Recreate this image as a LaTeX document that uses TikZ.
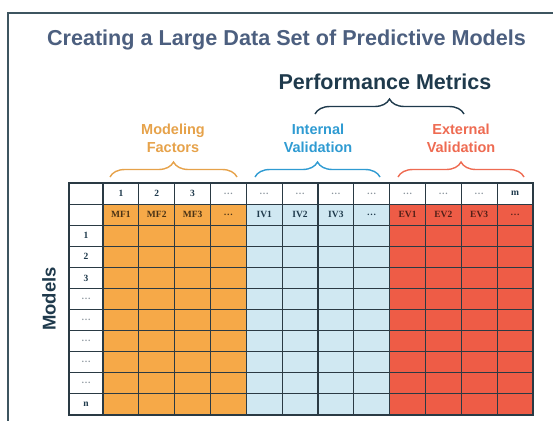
\documentclass[tikz,border=0pt]{standalone}
\usepackage{fontspec}
\setmainfont{Liberation Serif}
\setsansfont{Liberation Sans}
\usetikzlibrary{positioning}
\usetikzlibrary{decorations.pathreplacing}
\definecolor{titleblue}{HTML}{4C5F7F}
\definecolor{metricdark}{HTML}{1F3A4C}
\definecolor{framegray}{HTML}{3E5560}
\definecolor{gridline}{HTML}{2A3A44}
\definecolor{mforange}{HTML}{F6A948}
\definecolor{mftext}{HTML}{E6A24A}
\definecolor{ivblue}{HTML}{D0E8F2}
\definecolor{ivtext}{HTML}{2F9BD2}
\definecolor{evred}{HTML}{EE5C46}
\definecolor{evtext}{HTML}{EE6B52}
\definecolor{dotgray}{HTML}{8A949C}
\newcommand{\gap}{\textcolor{dotgray}{\ldots}}
\tikzset{
    cell/.style = {rectangle, draw=gridline, line width=1.1pt, inner sep=0pt, outer sep=0pt, anchor=north west, minimum width=35.83pt, minimum height=21.09pt, font=\rmfamily\bfseries\fontsize{9.5}{10}\selectfont, text=metricdark},
    rowcell/.style = {cell, minimum width=34pt, fill=white},
    headcell/.style = {cell, fill=white},
    mfcell/.style = {cell, fill=mforange, text=black!70!mforange},
    ivcell/.style = {cell, fill=ivblue, text=metricdark},
    evcell/.style = {cell, fill=evred, text=black!65!evred},
    bracen/.style = {decorate, decoration={brace, amplitude=15pt, aspect=0.5}, line width=1.4pt},
    grouplabel/.style = {align=center, font=\sffamily\bfseries\fontsize{14.5}{18}\selectfont},
}

\begin{document}
\begin{tikzpicture}[x=1pt, y=-1pt]
  \useasboundingbox (0,0) rectangle (558,421);
  % frame
  \draw[framegray, line width=1.2pt] (8,421) -- (8,13) -- (553,13);

  % titles
  \node[font=\sffamily\bfseries\fontsize{21.6}{24}\selectfont, text=titleblue] (title) at (286.5,40) {Creating a Large Data Set of Predictive Models};
  \node[font=\sffamily\bfseries\fontsize{21.5}{24}\selectfont, text=metricdark] (perf) at (385,82) {Performance Metrics};

  % header row
  \node[headcell, minimum width=34pt] (h-0) at (69,183) {};
  \foreach \lab [count=\c] in {1,2,3,\gap,\gap,\gap,\gap,\gap,\gap,\gap,\gap,m}
    \node[headcell] (h-\c) at ({103+(\c-1)*35.83},183) {\lab};

  % factor / metric names
  \node[rowcell] (k-0) at (69,204.09) {};
  \foreach \lab/\sty [count=\c] in {MF1/mfcell,MF2/mfcell,MF3/mfcell,\ldots/mfcell,
      IV1/ivcell,IV2/ivcell,IV3/ivcell,\ldots/ivcell,
      EV1/evcell,EV2/evcell,EV3/evcell,\ldots/evcell}
    \node[\sty] (k-\c) at ({103+(\c-1)*35.83},204.09) {\lab};

  % models
  \foreach \lab [count=\r] in {1,2,3,\gap,\gap,\gap,\gap,\gap,n} {
    \node[rowcell] (r-\r) at (69,{204.09+\r*21.09}) {\lab};
    \foreach \c in {1,...,4}
      \node[mfcell] (d-\r-\c) at ({103+(\c-1)*35.83},{204.09+\r*21.09}) {};
    \foreach \c in {5,...,8}
      \node[ivcell] (d-\r-\c) at ({103+(\c-1)*35.83},{204.09+\r*21.09}) {};
    \foreach \c in {9,...,12}
      \node[evcell] (d-\r-\c) at ({103+(\c-1)*35.83},{204.09+\r*21.09}) {};
  }
  \node[rotate=90, font=\sffamily\bfseries\fontsize{18.5}{20}\selectfont, text=metricdark] (models) at (49,299) {Models};

  % braces
  \coordinate (mfl) at (110,177);
  \coordinate (mfr) at (237,177);
  \coordinate (ivl) at (255,177);
  \coordinate (ivr) at (380,177);
  \coordinate (evl) at (398,177);
  \coordinate (evr) at (524,177);
  \coordinate (pml) at (315,114);
  \coordinate (pmr) at (464,114);
  \draw[bracen, mftext] (mfl) -- (mfr);
  \draw[bracen, ivtext] (ivl) -- (ivr);
  \draw[bracen, evtext] (evl) -- (evr);
  \draw[bracen, metricdark] (pml) -- (pmr);

  \node[grouplabel, text=mftext] (mf) at (173,138) {Modeling\\Factors};
  \node[grouplabel, text=ivtext] (iv) at (318,138) {Internal\\Validation};
  \node[grouplabel, text=evtext] (ev) at (461,138) {External\\Validation};
\end{tikzpicture}
\end{document}
